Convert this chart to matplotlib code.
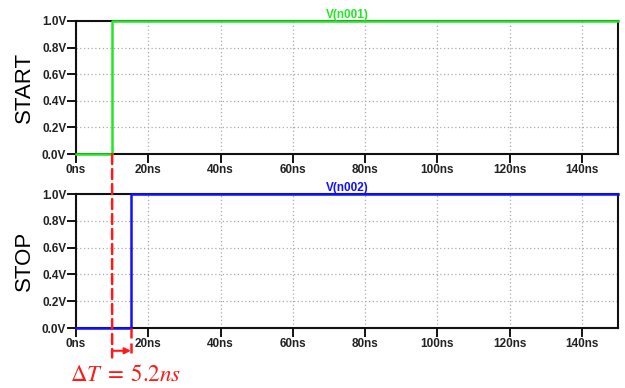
import matplotlib
matplotlib.use("Agg")
import matplotlib.pyplot as plt
from matplotlib.patches import ConnectionPatch

# ---- data ----
t_start = [0, 10, 10, 150]
v_start = [0, 0, 1, 1]
t_stop = [0, 15.2, 15.2, 150]
v_stop = [0, 0, 1, 1]
x_ticks = [0, 20, 40, 60, 80, 100, 120, 140]
x_labels = ["0ns", "20ns", "40ns", "60ns", "80ns", "100ns", "120ns", "140ns"]
y_ticks = [0.0, 0.2, 0.4, 0.6, 0.8, 1.0]
y_labels = ["0.0V", "0.2V", "0.4V", "0.6V", "0.8V", "1.0V"]
titles = ["V(n001)", "V(n002)"]
ylabels = ["START", "STOP"]
delta_label = r"$\Delta T\;=\;5.2ns$"

plt.rcParams['font.family'] = ['Liberation Sans', 'DejaVu Sans']
plt.rcParams['mathtext.fontset'] = 'stix'

fig = plt.figure(figsize=(6.25, 3.88), dpi=100)
ax1 = fig.add_axes([0.1216, 0.603, 0.8672, 0.343])
ax2 = fig.add_axes([0.1216, 0.1546, 0.8672, 0.345])

colors = ["#22e822", "#1010ff"]
series = [(t_start, v_start), (t_stop, v_stop)]

for ax, (t, v), c, title, yl in zip([ax1, ax2], series, colors, titles, ylabels):
    ax.set_xlim(0, 150)
    ax.set_ylim(0, 1)
    ax.plot(t, v, color=c, lw=1.8, clip_on=False, zorder=5)
    ax.set_xticks(x_ticks)
    ax.set_xticklabels(x_labels, fontsize=8.5, fontweight='bold', color='#222222')
    ax.set_yticks(y_ticks)
    ax.set_yticklabels(y_labels, fontsize=8.5, fontweight='bold', color='#222222')
    ax.tick_params(direction='out', length=6.5, width=1.3, pad=0.5)
    ax.grid(True, color='#aaaaaa', linestyle=(0, (1, 2)), linewidth=0.9)
    for s in ax.spines.values():
        s.set_linewidth(1.5)
        s.set_color('#111111')
    ax.set_title(title, color=c, fontsize=8.5, fontweight='bold', pad=1.5)
    ax.set_ylabel(yl, fontsize=16, labelpad=6)
    ax.yaxis.set_label_coords(-0.075, 0.5)

red = "#ff1a1a"
# dashed marker line from START rising edge down below STOP axes
con = ConnectionPatch(xyA=(t_start[1], 0), coordsA=ax1.transData,
                      xyB=(t_start[1], -0.22), coordsB=ax2.transData,
                      color=red, lw=1.8, linestyle=(0, (4, 2)), zorder=10)
fig.add_artist(con)
ax2.plot([t_stop[1], t_stop[1]], [0, -0.22], color=red, lw=1.8,
         linestyle=(0, (4, 2)), clip_on=False, zorder=10)
ax2.annotate("", xy=(t_stop[1], -0.17), xytext=(t_start[1], -0.17),
             xycoords='data', textcoords='data', annotation_clip=False,
             arrowprops=dict(arrowstyle='-|>', color=red, lw=1.5,
                             mutation_scale=9, shrinkA=0, shrinkB=0))
ax2.text(-1.7, -0.35, delta_label, color=red, fontsize=16.5,
         ha='left', va='center', clip_on=False)

fig.savefig("out.png", dpi=100, facecolor='white')
